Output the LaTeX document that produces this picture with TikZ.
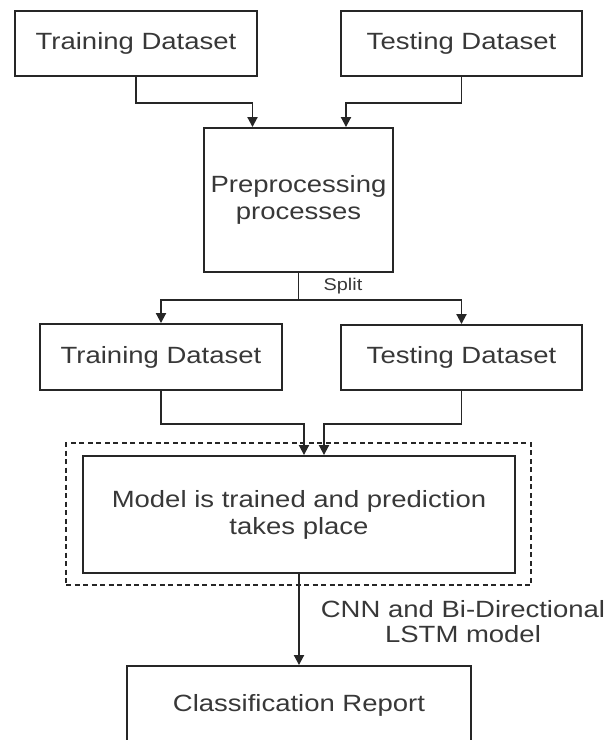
\documentclass[tikz,border=0pt]{standalone}
\usepackage{fontspec}
\setmainfont[FakeStretch=1.17]{Liberation Sans}
\usetikzlibrary{arrows.meta,positioning}

\begin{document}
\begin{tikzpicture}[x=1pt, y=-1pt,
    box/.style={rectangle, draw=black!85, line width=1.9pt, text=black!78, font={\fontsize{23.5}{27}\selectfont}, align=center, inner sep=0pt},
    group/.style={rectangle, draw=black!85, line width=1.8pt, dash pattern=on 5pt off 3.5pt, inner sep=0pt},
    arr/.style={-{Triangle[length=10pt, width=10pt]}, line width=1.9pt, draw=black!85},
    link/.style={line width=1.9pt, draw=black!85},
    note/.style={text=black!78, align=center, inner sep=0pt}
]
\useasboundingbox (0,0) rectangle (608,740);

% Input datasets - top row
\node[box, minimum width=242pt, minimum height=65pt] (trainA) at (136,43.5) {Training Dataset};
\node[box, minimum width=241pt, minimum height=65pt] (testA) at (461.5,43.5) {Testing Dataset};

% Preprocessing
\node[box, minimum width=189pt, minimum height=144pt] (prep) at (298.5,200) {Preprocessing\\processes};

% Split datasets - second row
\node[box, minimum width=242pt, minimum height=66pt] (trainB) at (161,357) {Training Dataset};
\node[box, minimum width=241pt, minimum height=65pt] (testB) at (461.5,357.5) {Testing Dataset};

% Model inside dashed frame
\node[group, minimum width=465pt, minimum height=142pt] (frame) at (298.5,514) {};
\node[box, minimum width=432pt, minimum height=117pt] (model) at (299,514.5) {Model is trained and prediction\\takes place};

% Output - cut by the page bottom
\node[box, minimum width=344pt, minimum height=78pt] (report) at (299,705) {Classification Report};

% Labels
\node[note, font={\fontsize{17}{20}\selectfont}] (split) at (343,286) {Split};
\node[note, font={\fontsize{23.5}{25}\selectfont}] (cnn) at (463,622) {CNN and Bi-Directional\\LSTM model};

% Inputs into preprocessing
\draw[arr] (trainA.south) -- ++(0,26) -| ([xshift=-46pt]prep.north);
\draw[arr] (testA.south) -- ++(0,26) -| ([xshift=47.5pt]prep.north);

% Split
\draw[link] (prep.south) -- ++(0,27) coordinate (fork);
\draw[arr] (fork) -| (trainB.north);
\draw[arr] (fork) -| (testB.north);

% Into the model
\draw[arr] (trainB.south) -- ++(0,33) -| ([xshift=5pt]model.north);
\draw[arr] (testB.south) -- ++(0,33) -| ([xshift=25pt]model.north);

% Model to report
\draw[arr] (model.south) -- (report.north);

\end{tikzpicture}
\end{document}
